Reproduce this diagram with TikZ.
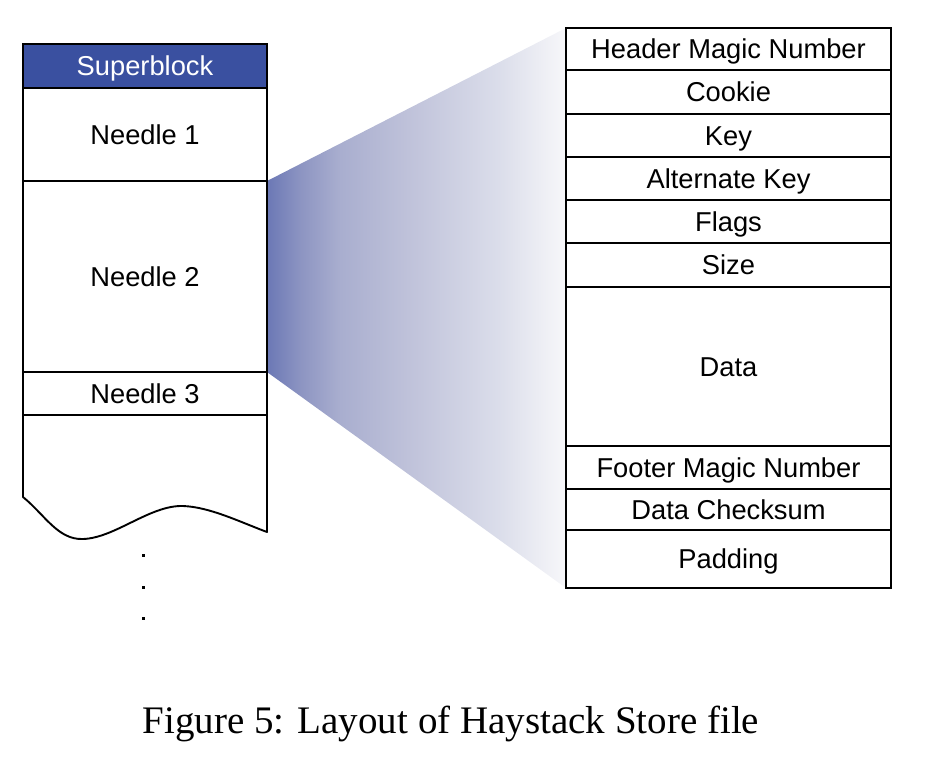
\documentclass[tikz,border=0pt]{standalone}
\usepackage{fontspec}
\usetikzlibrary{backgrounds}
\setmainfont{Liberation Sans}
\newfontfamily\capfont{Liberation Serif}
\definecolor{sbblue}{RGB}{58,80,160}
\pgfdeclarehorizontalshading{fan}{100bp}{rgb(0bp)=(0.42,0.47,0.71); rgb(25bp)=(0.42,0.47,0.71); rgb(30.5bp)=(0.55,0.58,0.76); rgb(37bp)=(0.66,0.68,0.81); rgb(50bp)=(0.76,0.77,0.86); rgb(64bp)=(0.86,0.87,0.92); rgb(75bp)=(0.97,0.97,0.98); rgb(100bp)=(0.97,0.97,0.98)}
\tikzset{
  cell/.style={draw, line width=1.9pt, inner sep=0pt, outer sep=0pt,
    font=\fontsize{27.3}{32}\selectfont, text height=19.5pt, text depth=0pt},
  lcell/.style={cell, minimum width=244pt},
  rcell/.style={cell, minimum width=325pt},
  dotmark/.style={fill, inner sep=0pt, minimum size=3pt},
}
\begin{document}
\begin{tikzpicture}[x=1pt,y=-1pt]
\useasboundingbox (0,0) rectangle (948,764);
% left column
\node[lcell, fill=sbblue, text=white, minimum height=44pt] (sb) at (145,66) {Superblock};
\node[lcell, minimum height=93pt] (n1) at (145,134.5) {Needle 1};
\node[lcell, minimum height=191pt] (n2) at (145,276.5) {Needle 2};
\node[lcell, minimum height=43pt] (n3) at (145,393.5) {Needle 3};
% right column
\node[rcell, minimum height=42pt] (hmn) at (728.5,49) {Header Magic Number};
\node[rcell, minimum height=44pt] (ck) at (728.5,92) {Cookie};
\node[rcell, minimum height=43pt] (key) at (728.5,135.5) {Key};
\node[rcell, minimum height=43pt] (ak) at (728.5,178.5) {Alternate Key};
\node[rcell, minimum height=43pt] (fl) at (728.5,221.5) {Flags};
\node[rcell, minimum height=44pt] (sz) at (728.5,265) {Size};
\node[rcell, minimum height=159pt] (dt) at (728.5,366.5) {Data};
\node[rcell, minimum height=43pt] (fmn) at (728.5,467.5) {Footer Magic Number};
\node[rcell, minimum height=41pt] (dc) at (728.5,509.5) {Data Checksum};
\node[rcell, minimum height=58pt] (pad) at (728.5,559) {Padding};
% gradient fan, behind the boxes
\begin{scope}[on background layer]
\shade[shading=fan] (n2.north east) -- (hmn.north west) -- (pad.south west) -- (n2.south east) -- cycle;
\end{scope}
% lower torn part of the file
\draw[line width=1.9pt, line join=round] (n3.south west) -- (23,497)
  .. controls (45,515) and (58,540) .. (83,539)
  .. controls (115,538) and (150,505) .. (183,506)
  .. controls (210,507) and (240,522) .. (267,532)
  -- (n3.south east);
% dots
\node[dotmark] (d1) at (143,555) {};
\node[dotmark] (d2) at (143,587) {};
\node[dotmark] (d3) at (143,618) {};
% caption
\node[anchor=base, inner sep=0pt, font=\capfont\fontsize{39}{46}\selectfont] (cap) at (451,733) {Figure 5: Layout of Haystack Store file};
\end{tikzpicture}
\end{document}
